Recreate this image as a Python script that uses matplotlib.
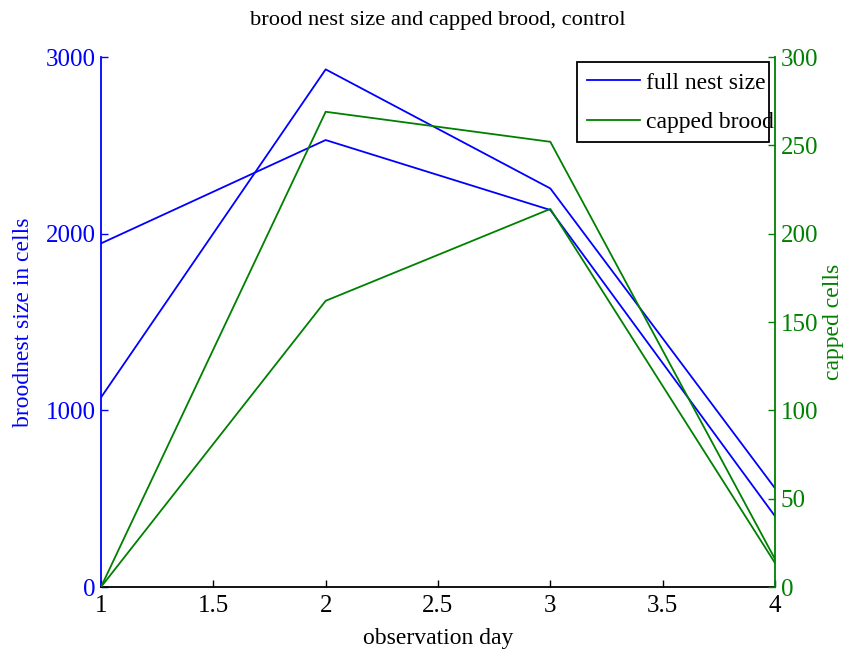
import matplotlib
matplotlib.use("Agg")
import matplotlib.pyplot as plt
from matplotlib.patches import Rectangle

days = [1, 2, 3, 4]
nest_a = [1945, 2530, 2134, 401]
nest_b = [1073, 2930, 2256, 559]
capped_a = [0, 269, 252, 15.8]
capped_b = [0, 162, 214, 13.6]

xticks = [1, 1.5, 2, 2.5, 3, 3.5, 4]
xticklabels = ["1", "1.5", "2", "2.5", "3", "3.5", "4"]
lticks = [0, 1000, 2000, 3000]
rticks = [0, 50, 100, 150, 200, 250, 300]

BLUE = "#0000ff"
GREEN = "#008000"

plt.rcParams['font.family'] = ['Liberation Serif', 'DejaVu Serif']
FS = 17
TFS = 18

W, H = 845, 653
fig = plt.figure(figsize=(W/100, H/100), dpi=100)
ax = fig.add_axes([101/W, 1-587/H, (775-101)/W, (587-57)/H])
ax2 = ax.twinx()

l1, = ax.plot(days, nest_a, color=BLUE, lw=1.3)
ax.plot(days, nest_b, color=BLUE, lw=1.3)
l2, = ax2.plot(days, capped_a, color=GREEN, lw=1.3)
ax2.plot(days, capped_b, color=GREEN, lw=1.3)

ax.set_xlim(1, 4)
ax.set_ylim(0, 3000)
ax2.set_ylim(0, 300)
ax.set_xticks(xticks)
ax.set_xticklabels(xticklabels)
ax.set_yticks(lticks)
ax2.set_yticks(rticks)

for a in (ax, ax2):
    a.spines['top'].set_visible(False)
    a.tick_params(direction='in', length=5, width=1, labelsize=TFS)

ax.spines['left'].set_color(BLUE)
ax.spines['left'].set_linewidth(1.3)
ax.spines['right'].set_visible(False)
ax.spines['bottom'].set_linewidth(1.3)
ax2.spines['left'].set_visible(False)
ax2.spines['bottom'].set_visible(False)
ax2.spines['right'].set_color(GREEN)
ax2.spines['right'].set_linewidth(1.3)
ax.tick_params(axis='y', colors=BLUE, pad=4)
ax.tick_params(axis='x', colors='black', pad=6)
ax2.tick_params(axis='y', colors=GREEN, pad=4)

ax.set_xlabel("observation day", fontsize=FS, labelpad=8)
ax.set_ylabel("broodnest size in cells", fontsize=FS, color=BLUE, labelpad=8)
ax2.set_ylabel("capped cells", fontsize=FS, color=GREEN, labelpad=3.5)
ax.set_title("brood nest size and capped brood, control", fontsize=16.2, pad=23)

# legend entries (frame drawn separately, MATLAB-style with overflowing text)
leg = ax2.legend([l1, l2], ["full nest size", "capped brood"], fontsize=FS,
                 loc='upper left', bbox_to_anchor=(580/W, 1-65/H),
                 bbox_transform=fig.transFigure, frameon=False,
                 borderpad=0.3, handlelength=2.25, handletextpad=0.25,
                 labelspacing=0.75, borderaxespad=0)
fig.add_artist(Rectangle((577/W, 1-142/H), (769-577)/W, (142-62)/H,
                         transform=fig.transFigure, fill=False,
                         edgecolor='black', linewidth=1.3, zorder=5))

fig.savefig("out.png", dpi=100)
